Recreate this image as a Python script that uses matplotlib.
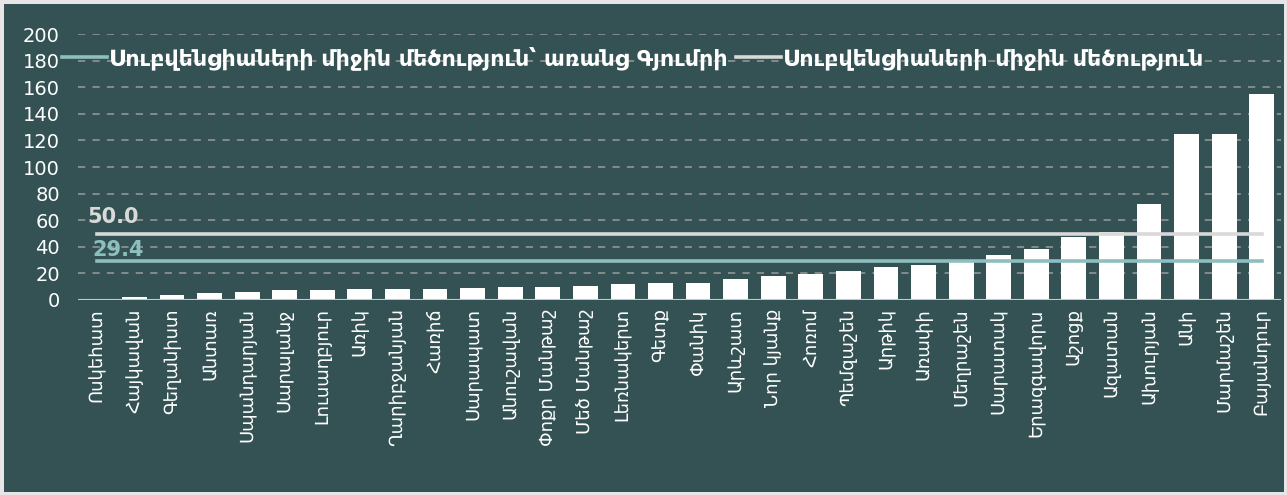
import numpy as np
import matplotlib
matplotlib.use("Agg")
import matplotlib.pyplot as plt

# Data
villages = [
    "Ոսկեհատ", "Հայկավան", "Գեղանիստ", "Անտառ", "Սպանդարյան", "Սարալանջ",
    "Լուսաղբյուր", "Առիկ", "Ղարիբջանյան", "Հառիճ", "Սարապատ", "Անուշավան",
    "Փոքր Մանթաշ", "Մեծ Մանթաշ", "Լեռնակերտ", "Գետք", "Փանիկ", "Արևշատ",
    "Նոր կյանք", "Հոռոմ", "Պեմզաշեն", "Արթիկ", "Առափի", "Մեղրաշեն",
    "Սարատակ", "Երազգավորս", "Աշոցք", "Ազատան", "Ախուրյան", "Անի",
    "Մարմաշեն", "Բայանդուր",
]
subvention = [
    0.3, 2.5, 3.5, 5, 6, 7.5,
    7.8, 8, 8.3, 8.5, 9, 9.5,
    10, 10.5, 12, 12.5, 13, 15.5,
    18, 19.5, 22, 25, 26.5, 30,
    33.5, 38.5, 47.5, 51, 72, 125,
    125, 155,
]
avg_without_gyumri = 29.4
avg_all = 50.0
legend_labels = [
    "Սուբվենցիաների միջին մեծություն՝ առանց Գյումրի",
    "Սուբվենցիաների միջին մեծություն",
]

bg = "#345253"
teal = "#8EBFBF"
grey = "#D9D9D9"
fam = ["DejaVu Sans"]

fig = plt.figure(figsize=(12.87, 4.95), dpi=100)
fig.patch.set_facecolor(bg)
fig.patch.set_edgecolor("#E6E6E6")
fig.patch.set_linewidth(5)
ax = fig.add_axes([0.0606, 0.394, 0.9344, 0.537])
ax.set_facecolor(bg)

x = np.arange(len(villages))
ax.bar(x, subvention, width=0.66, color="white", zorder=3)

l1, = ax.plot(x, [avg_without_gyumri] * len(x), color=teal, lw=2.6, zorder=4)
l2, = ax.plot(x, [avg_all] * len(x), color=grey, lw=2.6, zorder=4)

ax.annotate(f"{avg_all:.1f}", (x[0], avg_all), xytext=(-7, 5), textcoords="offset points",
            color=grey, fontsize=15, fontweight="bold", family=fam, ha="left", va="bottom")
ax.annotate(f"{avg_without_gyumri:.1f}", (x[0], avg_without_gyumri), xytext=(-3, 1),
            textcoords="offset points", color=teal, fontsize=15, fontweight="bold",
            family=fam, ha="left", va="bottom")

ax.set_xlim(-0.5, len(x) - 0.5)
ax.set_ylim(0, 200)
ax.set_yticks(np.arange(0, 201, 20))
ax.yaxis.grid(True, linestyle=(0, (4, 4)), color="#8A8F8F", lw=1.3, zorder=1)
ax.set_axisbelow(True)
ax.axhline(0, color="#C8C8C8", lw=1.5, zorder=5)
for s in ax.spines.values():
    s.set_visible(False)
ax.tick_params(axis="both", length=0, colors="white")
ax.tick_params(axis="y", pad=13, labelsize=14)
ax.tick_params(axis="x", pad=6, labelsize=13)
ax.set_xticks(x)
ax.set_xticklabels(villages, rotation=90, family=fam, va="top", ha="center")
for t in ax.get_yticklabels():
    t.set_family(fam)

leg = ax.legend([l1, l2], legend_labels, loc="center left", bbox_to_anchor=(-0.013, 0.91),
                ncol=2, frameon=False, handlelength=2.0, columnspacing=0.4,
                handletextpad=0.1, borderpad=0, borderaxespad=0,
                prop={"family": fam, "weight": "bold", "size": 16})
for t in leg.get_texts():
    t.set_color("white")

fig.savefig("out.png", dpi=100, facecolor=fig.get_facecolor(), edgecolor=fig.get_edgecolor())
